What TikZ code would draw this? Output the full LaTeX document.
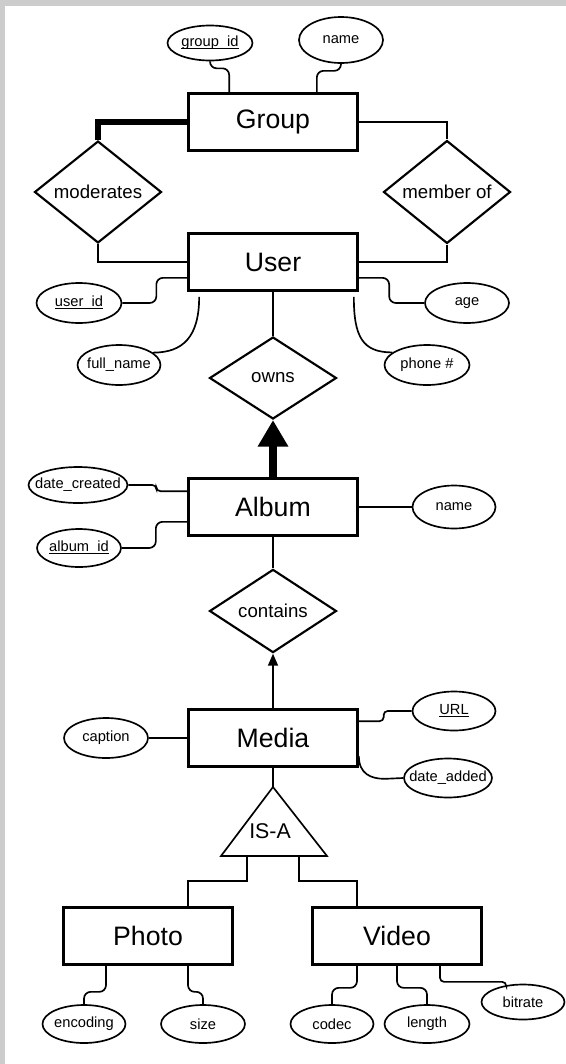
\documentclass[tikz,border=0pt]{standalone}
\usepackage{fontspec}
\setmainfont{Liberation Sans}
\usepackage{xcolor}
\usepackage{tikz}
\usetikzlibrary{arrows.meta,shapes.geometric,calc}

\definecolor{framegray}{RGB}{204,204,204}
\newcommand{\lbl}[1]{\makebox[0pt]{#1}}
\newcommand{\key}[1]{\underline{\raisebox{0pt}[\height][0pt]{#1}}\vphantom{#1}}

\begin{document}
\begin{tikzpicture}[
  x=0.75pt, y=0.75pt,
  entity/.style={rectangle, draw, line width=2pt, minimum width=126.75pt, minimum height=42.75pt, font=\fontsize{20}{24}\selectfont},
  rel/.style={diamond, draw, line width=1.6pt, minimum width=95.25pt, minimum height=61.5pt, font=\fontsize{14}{17}\selectfont},
  attr/.style={ellipse, draw, line width=1.25pt, minimum width=63.75pt, minimum height=30pt, font=\fontsize{11}{13}\selectfont},
  conn/.style={line width=1.25pt},
  wiggle/.style={conn, rounded corners=5pt},
  bigline/.style={line width=5pt},
  bigarr/.style={-{Triangle[width=21.75pt,length=20pt]}, line width=5.6pt},
  arr/.style={-{Triangle[width=7.5pt,length=9pt]}, line width=1.25pt},
  every node/.style={inner sep=0pt}
]
\useasboundingbox (0,0) rectangle (566,-1064);

% Frame
\fill[framegray] (0,0) rectangle (566,-6);
\fill[framegray] (0,0) rectangle (5,-1064);

% Entities
\node[entity] (grp) at (273,-122) {Group};
\node[entity] (usr) at (273,-262) {User};
\node[entity] (alb) at (273,-507) {Album};
\node[entity] (med) at (273,-738) {Media};
\node[entity] (pho) at (148,-936) {Photo};
\node[entity] (vid) at (397,-936) {Video};

% Relationships
\node[rel] (mod) at (98,-192) {moderates};
\node[rel] (mem) at (447,-192) {member of};
\node[rel] (own) at (273,-378) {owns};
\node[rel] (con) at (273,-611) {contains};

% Group attributes
\node[attr, minimum height=26.25pt] (gid) at (210,-43) {\lbl{\key{group\_id}}};
\node[attr, minimum width=63pt, minimum height=34.5pt] (gnm) at (341,-40) {\lbl{name}};
\draw[wiggle] (gid.south) -- ++(0,-7) -| ($(grp.north west)+(42,0)$);
\draw[wiggle] (gnm.south) -- ++(0,-7) -| ($(grp.north east)+(-42,0)$);

% Group -- User
\draw[bigline] (grp.west) -| (mod.north);
\draw[conn] (grp.east) -| (mem.north);
\draw[conn] (mod.south) |- (usr.west);
\draw[conn] (mem.south) |- (usr.east);

% User attributes
\node[attr] (uid) at (79,-303) {\lbl{\key{user\_id}}};
\node[attr, minimum width=62.25pt] (fnm) at (119,-365) {\lbl{full\_name}};
\node[attr, minimum width=63pt] (age) at (467,-303) {\lbl{age}};
\node[attr] (phn) at (427,-365) {\lbl{phone \#}};
\draw[wiggle] (uid.east) -- ++(34,0) |- ($(usr.south west)+(0,14)$);
\draw[wiggle] (age.west) -- ++(-35,0) |- ($(usr.south east)+(0,14)$);
\draw[conn] ($(usr.south west)+(12,-5)$) .. controls +(0,-40) and +(30,0) .. (fnm.20);
\draw[conn] ($(usr.south east)+(-5,-5)$) .. controls +(0,-40) and +(-30,0) .. (phn.160);

% owns
\draw[conn] (usr.south) -- (own.north);
\draw[bigarr] (alb.north) -- (own.south);

% Album attributes
\node[attr, minimum width=74.25pt, minimum height=27pt] (dcr) at (78,-485) {\lbl{date\_created}};
\node[attr, minimum width=63pt, minimum height=28.5pt] (aid) at (79,-548) {\lbl{\key{album\_id}}};
\node[attr, minimum width=62.25pt, minimum height=32.25pt] (anm) at (454,-507) {\lbl{name}};
\draw[wiggle, rounded corners=3pt] (dcr.east) -- ++(28,0) |- ($(alb.north west)+(0,-14)$);
\draw[wiggle] (aid.east) -- ++(34,0) |- ($(alb.south west)+(0,15)$);
\draw[conn] (alb.east) -- (anm.west);

% contains
\draw[conn] (alb.south) -- (con.north);
\draw[arr] (med.north) -- (con.south);

% Media attributes
\node[attr, minimum width=63pt] (cap) at (106,-738) {\lbl{caption}};
\node[attr, minimum width=62.25pt, minimum height=29.25pt] (url) at (454,-711) {\lbl{\key{URL}}};
\node[attr, minimum width=66pt, minimum height=29.25pt] (dad) at (448,-778) {\lbl{date\_added}};
\draw[conn] (cap.east) -- (med.west);
\draw[wiggle, rounded corners=3pt] (url.west) -- ++(-28,0) |- ($(med.north east)+(0,-13)$);
\draw[conn] ($(med.south east)+(0,12)$) .. controls +(0,-18) and +(-14,0) .. ++(26,-23) -- (dad.west);

% IS-A
\coordinate (isatop) at (273,-787);
\coordinate (isaL) at (247,-856);
\coordinate (isaR) at (299,-856);
\draw[line width=1.25pt, line join=miter] (isatop) -- (327,-856) -- (221,-856) -- cycle;
\node[font=\fontsize{16}{19}\selectfont] (isa) at (270,-831) {IS-A};
\draw[conn] (med.south) -- (isatop);
\draw[conn] (isaL) -- ++(0,-25) -| ($(pho.north)+(40,0)$);
\draw[conn] (isaR) -- ++(0,-25) -| ($(vid.north)+(-40,0)$);

% Photo / Video attributes
\node[attr, minimum width=62.25pt, minimum height=28.5pt] (enc) at (84,-1024) {\lbl{encoding}};
\node[attr, minimum width=63pt, minimum height=28.5pt] (siz) at (203,-1024) {\lbl{size}};
\node[attr, minimum width=62.25pt, minimum height=28.5pt] (cod) at (332,-1024) {\lbl{codec}};
\node[attr, minimum height=28.5pt] (len) at (427,-1024) {\lbl{length}};
\node[attr, minimum width=62.25pt, minimum height=26.25pt] (bit) at (523,-1002) {\lbl{bitrate}};
\draw[wiggle] ($(pho.south)+(-42,0)$) -- ++(0,-26) -| (enc.north);
\draw[wiggle] ($(pho.south)+(40,0)$) -- ++(0,-26) -| (siz.north);
\draw[wiggle] ($(vid.south)+(-40,0)$) -- ++(0,-22) -| (cod.north);
\draw[wiggle] (vid.south) -- ++(0,-22) -| (len.north);
\draw[wiggle, rounded corners=3pt] ($(vid.south)+(43,0)$) -- ++(0,-16) -| (bit.135);

\end{tikzpicture}
\end{document}
